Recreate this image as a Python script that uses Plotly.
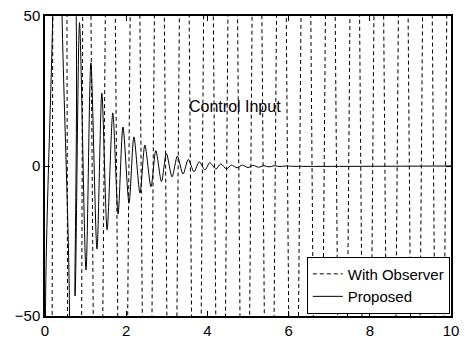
import plotly.graph_objects as go

# --- data ---
# "With Observer": very large oscillation (mostly off-scale), extrema positions/values
obs_x = [0.0, 0.367, 0.684, 0.993, 1.300, 1.609, 1.915, 2.219, 2.515, 2.814,
         3.127, 3.432, 3.728, 4.026, 4.326, 4.625, 4.921, 5.221, 5.523, 5.822,
         6.123, 6.427, 6.727, 7.026, 7.331, 7.631, 7.924, 8.220, 8.524, 8.824,
         9.123, 9.417, 9.721, 10.0]
obs_y = [-1200, 1200, -900, 300, -250, 250, -250, 250, -250, 250,
         -250, 250, -250, 250, -250, 250, -250, 250, -250, 250,
         -250, 250, -250, 250, -250, 250, -250, 250, -250, 250,
         -250, 250, -250, 230]

# "Proposed": damped oscillation (extrema)
prop_x = [0.0, 0.035, 0.14, 0.16, 0.46, 0.49, 0.63, 0.74, 0.85, 1.01, 1.13, 1.28,
          1.40, 1.53, 1.67, 1.80, 1.92, 2.07, 2.19, 2.34, 2.46, 2.61, 2.73,
          2.87, 2.99, 3.13, 3.26, 3.40, 3.53, 3.67, 3.80, 3.94, 4.06, 4.21,
          4.33, 4.47, 4.59, 4.73, 4.86, 5.00, 5.12, 5.26, 5.39, 5.52, 5.65,
          5.79, 5.92, 6.10, 10.0]
prop_y = [-80, 80, 80, -80, -80, 80, 80, -43.3, 47.8, -34.7, 34.4, -27.7,
          24.3, -21.3, 17.7, -16.0, 13.0, -12.3, 9.7, -9.0, 7.0, -6.9, 5.1,
          -5.2, 4.2, -3.6, 3.3, -2.7, 2.2, -1.9, 1.4, -1.3, 1.1, -1.0,
          0.7, -1.0, 0.3, -0.6, 0.3, -0.5, 0.2, -0.4, 0.1, -0.3, 0.1,
          -0.2, 0.0, -0.1, 0.0]

x_ticks = [0, 2, 4, 6, 8, 10]
y_ticks = [-50, 0, 50]
series_names = ["With Observer", "Proposed"]
title_text = "Control Input"

FONT = "Liberation Sans, Arial, Helvetica, sans-serif"

fig = go.Figure()
fig.add_trace(go.Scatter(x=obs_x, y=obs_y, mode="lines", name=series_names[0],
                         line=dict(color="black", width=1, dash="4px,3px")))
fig.add_trace(go.Scatter(x=prop_x, y=prop_y, mode="lines", name=series_names[1],
                         line=dict(color="black", width=1, shape="spline", smoothing=0.8)))

fig.add_annotation(x=3.5, y=20, xref="x", yref="y", text=title_text, showarrow=False,
                   xanchor="left", yanchor="middle",
                   font=dict(family=FONT, size=16, color="black"))

axis_common = dict(showgrid=False, zeroline=False, showline=True, linecolor="black",
                   linewidth=1.5, mirror="allticks", ticks="inside", ticklen=5,
                   tickcolor="black", tickwidth=1, automargin=False,
                   tickfont=dict(family=FONT, size=15, color="black"))

fig.update_layout(
    width=468, height=338,
    margin=dict(l=45, r=17, t=16, b=22),
    paper_bgcolor="white", plot_bgcolor="white",
    showlegend=True,
    legend=dict(x=0.997, y=0.008, xanchor="right", yanchor="bottom",
                bgcolor="white", bordercolor="black", borderwidth=1,
                font=dict(family=FONT, size=15, color="black"),
                tracegroupgap=0, itemwidth=30),
    xaxis=dict(range=[0, 10], tickvals=x_ticks, **axis_common),
    yaxis=dict(range=[-50, 50], tickvals=y_ticks, **axis_common),
)

fig.write_html("out.html")
